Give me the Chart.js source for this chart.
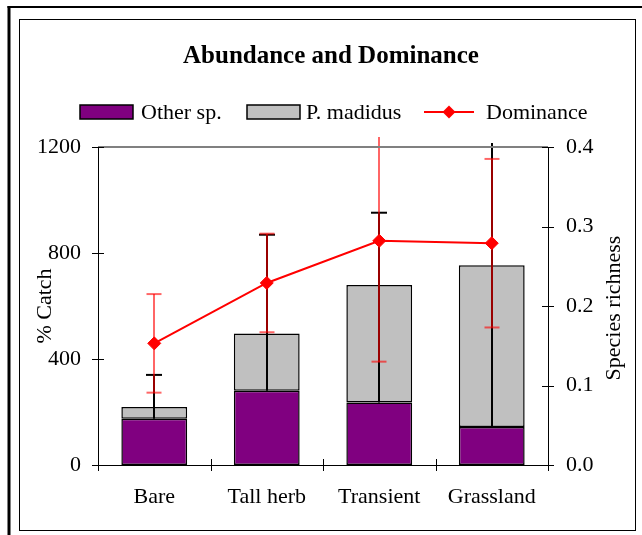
<!DOCTYPE html>
<html><head><meta charset="utf-8">
<script src="https://cdn.jsdelivr.net/npm/chart.js@4.4.0/dist/chart.umd.min.js"></script>
<style>html,body{margin:0;padding:0;background:#fff;}#wrap{width:642px;height:535px;position:relative;}</style>
</head><body><div id="wrap"><canvas id="c" width="642" height="535"></canvas></div>
<script>
const categories = ['Bare', 'Tall herb', 'Transient', 'Grassland'];
const otherSp = [175, 280, 236, 143];
const pMadidus = [44, 216, 443, 611];
const catchErr = [121, 373, 273, 461];
const dominance = [0.153, 0.229, 0.282, 0.279];
const dominanceErr = [0.062, 0.062, 0.152, 0.106];
const catchTicks = [0, 400, 800, 1200];
const richnessTicks = [0, 0.1, 0.2, 0.3, 0.4];

const FONT = 'Liberation Serif';
const tickFont = {family: FONT, size: 22};

function line(ctx, x1, y1, x2, y2, color, w) {
  ctx.save(); ctx.strokeStyle = color; ctx.lineWidth = w;
  ctx.beginPath(); ctx.moveTo(x1, y1); ctx.lineTo(x2, y2); ctx.stroke(); ctx.restore();
}
function diamond(ctx, x, y, r, color) {
  ctx.save(); ctx.fillStyle = color; ctx.beginPath();
  ctx.moveTo(x, y - r); ctx.lineTo(x + r, y); ctx.lineTo(x, y + r); ctx.lineTo(x - r, y); ctx.closePath();
  ctx.fill(); ctx.restore();
}

const decor = {
  id: 'decor',
  afterDatasetDraw(chart, args) {
    if (args.index !== 1) return;
    const ctx = chart.ctx, xs = chart.scales.x, ys = chart.scales.y, ca = chart.chartArea;
    for (let i = 0; i < categories.length; i++) {
      const x = Math.round(xs.getPixelForValue(i));
      const yLow = ys.getPixelForValue(otherSp[i]);
      const top = otherSp[i] + pMadidus[i] + catchErr[i];
      let yHigh = ys.getPixelForValue(top);
      if (yHigh < ca.top - 10) yHigh = ca.top - 10;
      line(ctx, x, yLow, x, yHigh, '#000', 2);
      if (top <= 1200) line(ctx, x - 8, yHigh, x + 8, yHigh, '#000', 2);
    }
  },
  afterDatasetsDraw(chart) {
    const ctx = chart.ctx, xs = chart.scales.x, ys = chart.scales.y1, ca = chart.chartArea;
    const col = 'rgba(255,0,0,0.6)';
    for (let i = 0; i < categories.length; i++) {
      const x = Math.round(xs.getPixelForValue(i));
      let yT = ys.getPixelForValue(dominance[i] + dominanceErr[i]);
      const yB = ys.getPixelForValue(dominance[i] - dominanceErr[i]);
      const clipped = yT < ca.top - 10;
      if (clipped) yT = ca.top - 10;
      line(ctx, x, yT, x, yB, col, 2);
      if (!clipped) line(ctx, x - 7.5, yT, x + 7.5, yT, col, 2);
      line(ctx, x - 7.5, yB, x + 7.5, yB, col, 2);
    }
  },
  afterDraw(chart) {
    const ctx = chart.ctx, ca = chart.chartArea;
    const ys = chart.scales.y, y1 = chart.scales.y1;
    // frames
    line(ctx, 9, 6, 9, 535, '#000', 3);
    line(ctx, 7.5, 7, 642, 7, '#000', 2);
    ctx.save(); ctx.strokeStyle = '#000'; ctx.lineWidth = 1;
    ctx.strokeRect(19.5, 19.5, 616, 511); ctx.restore();
    // top gridline
    line(ctx, ca.left, ca.top, ca.right, ca.top, '#808080', 2);
    // axes
    const ac = '#000';
    line(ctx, ca.left + 0.5, ca.top, ca.left + 0.5, ca.bottom, ac, 1);
    line(ctx, ca.right + 0.5, ca.top, ca.right + 0.5, ca.bottom, ac, 1);
    line(ctx, ca.left - 6, ca.bottom + 0.5, ca.right + 6, ca.bottom + 0.5, ac, 1);
    catchTicks.forEach(v => { const y = Math.round(ys.getPixelForValue(v)) + 0.5; line(ctx, ca.left - 6, y, ca.left + 6, y, ac, 1); });
    richnessTicks.forEach(v => { const y = Math.round(y1.getPixelForValue(v)) + 0.5; line(ctx, ca.right - 6, y, ca.right + 6, y, ac, 1); });
    for (let i = 0; i <= categories.length; i++) {
      const x = Math.round(ca.left + (ca.right - ca.left) * i / categories.length) + 0.5;
      line(ctx, x, ca.bottom - 6, x, ca.bottom + 6, ac, 1);
    }
    // title
    ctx.save(); ctx.fillStyle = '#000';
    ctx.font = 'bold 25px "' + FONT + '"'; ctx.textAlign = 'center'; ctx.textBaseline = 'alphabetic';
    ctx.fillText('Abundance and Dominance', 331, 63);
    // axis titles
    ctx.font = '22px "' + FONT + '"'; ctx.textBaseline = 'middle';
    ctx.save(); ctx.translate(45, 306); ctx.rotate(-Math.PI / 2); ctx.fillText('% Catch', 0, 0); ctx.restore();
    ctx.save(); ctx.translate(614, 308); ctx.rotate(-Math.PI / 2); ctx.fillText('Species richness', 0, 0); ctx.restore();
    // legend
    ctx.textAlign = 'left'; ctx.textBaseline = 'alphabetic';
    ctx.fillStyle = '#800080'; ctx.fillRect(80, 105, 53, 14);
    ctx.strokeStyle = '#000'; ctx.lineWidth = 1.5; ctx.strokeRect(80, 105, 53, 14);
    ctx.fillStyle = '#000'; ctx.fillText(chart.data.datasets[0].label, 141, 119);
    ctx.fillStyle = '#C0C0C0'; ctx.fillRect(247, 105, 53, 14);
    ctx.strokeRect(247, 105, 53, 14);
    ctx.fillStyle = '#000'; ctx.fillText(chart.data.datasets[1].label, 306, 119);
    line(ctx, 424, 112, 474, 112, '#ff0000', 2);
    diamond(ctx, 449, 112, 6.5, '#ff0000');
    ctx.fillStyle = '#000'; ctx.fillText(chart.data.datasets[2].label, 486, 119);
    ctx.restore();
  }
};

new Chart(document.getElementById('c'), {
  data: {
    labels: categories,
    datasets: [
      {type: 'bar', label: 'Other sp.', data: otherSp, backgroundColor: '#800080', borderColor: '#000', borderWidth: 1.5, borderSkipped: false, order: 2, yAxisID: 'y', barPercentage: 0.585, categoryPercentage: 1},
      {type: 'bar', label: 'P. madidus', data: pMadidus, backgroundColor: '#C0C0C0', borderColor: '#000', borderWidth: 1.5, borderSkipped: false, order: 3, yAxisID: 'y', barPercentage: 0.585, categoryPercentage: 1},
      {type: 'line', label: 'Dominance', data: dominance, borderColor: '#ff0000', borderWidth: 2, pointStyle: 'rectRot', pointRadius: 6.5, pointBackgroundColor: '#ff0000', pointBorderColor: '#ff0000', pointBorderWidth: 1, tension: 0, order: 1, yAxisID: 'y1'}
    ]
  },
  options: {
    responsive: false, animation: false, devicePixelRatio: 1,
    layout: {padding: {top: 147, left: 0, right: 0, bottom: 0}},
    plugins: {legend: {display: false}, title: {display: false}, tooltip: {enabled: false}},
    scales: {
      x: {stacked: true, grid: {display: false, drawTicks: false}, border: {display: false},
          ticks: {font: tickFont, color: '#000', padding: 19, maxRotation: 0, autoSkip: false},
          afterFit(s) { s.height = 70; }},
      y: {stacked: true, min: 0, max: 1200, position: 'left',
          grid: {display: false, drawTicks: false}, border: {display: false},
          afterBuildTicks(s) { s.ticks = catchTicks.map(v => ({value: v})); },
          ticks: {font: tickFont, color: '#000', padding: 17, callback: v => String(v)},
          afterFit(s) { s.width = 98; }},
      y1: {min: 0, max: 0.4, position: 'right',
          grid: {display: false, drawTicks: false}, border: {display: false},
          afterBuildTicks(s) { s.ticks = richnessTicks.map(v => ({value: v})); },
          ticks: {font: tickFont, color: '#000', padding: 18, callback: v => Number(v).toFixed(1)},
          afterFit(s) { s.width = 94; }}
    }
  },
  plugins: [decor]
});
</script></body></html>
